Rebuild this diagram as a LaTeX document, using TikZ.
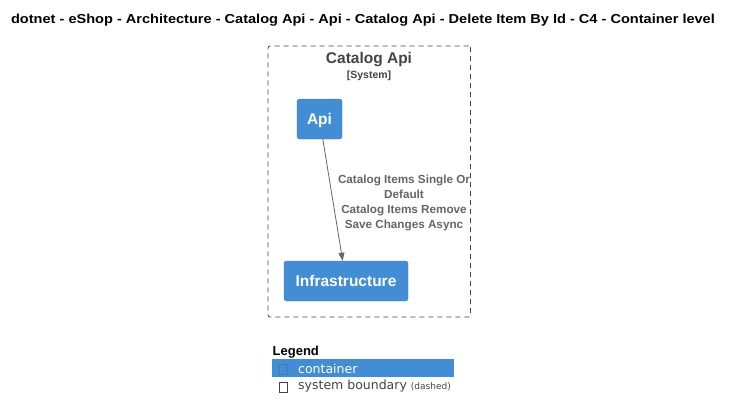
\documentclass[tikz,border=0pt]{standalone}
\usepackage{fontspec}
\setmainfont{Liberation Sans}
\newfontfamily\legendfont{DejaVu Sans}
\newfontfamily\titlefont[FakeStretch=1.12]{Liberation Sans}
\usetikzlibrary{arrows.meta}
\definecolor{containerblue}{HTML}{438DD5}
\definecolor{containeredge}{HTML}{3C7FC0}
\definecolor{boundarygrey}{HTML}{444444}
\definecolor{relgrey}{HTML}{666666}
\tikzset{
    container/.style={fill=containerblue,draw=containeredge,rounded corners=2.5pt,
        text=white,inner sep=0pt,text height=13.5pt,text depth=2.5pt,
        font=\fontsize{15.5}{18}\selectfont\bfseries},
    boundary/.style={draw=boundarygrey,dash pattern=on 5pt off 4pt,rounded corners=2pt,
        line width=0.8pt,inner sep=0pt},
    relation/.style={draw=relgrey,line width=0.8pt,-{Triangle[length=8pt,width=6pt]}},
    legendbox/.style={draw=#1,line width=0.6pt,minimum width=8pt,minimum height=10pt,inner sep=0pt},
}

\begin{document}
\begin{tikzpicture}[x=1pt,y=-1pt]
        \useasboundingbox[fill=white] (0,0) rectangle (733,420);
        % title
        \node [font=\titlefont\fontsize{13}{15}\selectfont\bfseries] (Title) at (363,20)
            {dotnet - eShop - Architecture - Catalog Api - Api - Catalog Api - Delete Item By Id - C4 - Container level};
        % system boundary
        \node [boundary,minimum width=202.5pt,minimum height=271pt] (CatalogApi) at (369.25,181.5) {};
        \node [text=boundarygrey,font=\fontsize{15.5}{18}\selectfont\bfseries] (CatalogApiName) at (369,60) {Catalog Api};
        \node [text=boundarygrey,font=\fontsize{10.5}{12}\selectfont\bfseries] (CatalogApiType) at (369,76) {[System]};
        % containers
        \node [container,minimum width=45pt,minimum height=40pt] (Api) at (319.5,119) {Api};
        \node [container,minimum width=124pt,minimum height=40pt] (Infrastructure) at (346,281) {Infrastructure};
        \draw [relation] (Api) -- (Infrastructure);
        \node [text=relgrey,align=center,font=\fontsize{11.7}{14.7}\selectfont\bfseries] (Calls) at (404,203) {
            Catalog Items Single Or\\
            Default\\
            Catalog Items Remove\\
            Save Changes Async
        };
        % legend
        \node [anchor=west,inner sep=0pt,font=\fontsize{13}{15}\selectfont\bfseries] (Legend) at (272.5,352.5) {Legend};
        \node [fill=containerblue,minimum width=182pt,minimum height=18pt,inner sep=0pt] (ContainerKey) at (363,368) {};
        \node [legendbox=containeredge] (ContainerMark) at (283,369) {};
        \node [anchor=west,inner sep=0pt,text=white,font=\legendfont\fontsize{12.5}{14}\selectfont] (ContainerText) at (298,368.5) {container};
        \node [legendbox=boundarygrey] (BoundaryMark) at (283,387) {};
        \node [anchor=west,inner sep=0pt,text=boundarygrey,font=\legendfont\fontsize{12.5}{14}\selectfont] (BoundaryText) at (298,386.5)
            {system boundary {\fontsize{9}{10}\selectfont(dashed)}};
    \end{tikzpicture}
\end{document}
